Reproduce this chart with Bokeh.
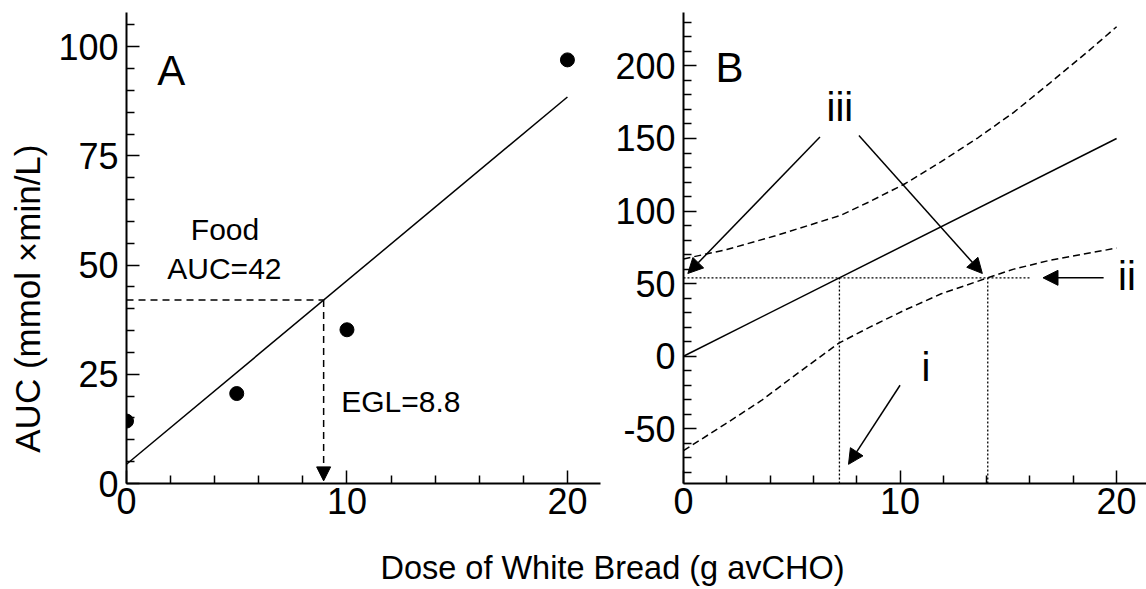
import numpy as np
from bokeh.plotting import figure
from bokeh.layouts import row, column
from bokeh.models import Range1d, FixedTicker, Label, Arrow, NormalHead
from bokeh.embed import file_html
from bokeh.resources import INLINE

FONT = "Liberation Sans"

# ---------------- data: panel A ----------------
dose_a = [0, 5, 10, 20]
auc_a = [14.3, 20.6, 35.2, 97.0]
fit_a_x = [0, 20]
fit_a_y = [4.4, 88.5]
food_auc = 42
egl_value = 8.8

# ---------------- data: panel B ----------------
fit_b_x = [0, 20]
fit_b_y = [0, 150]
upper_x = [0, 2, 4.25, 7.25, 8.6, 10.25, 11.9, 13.6, 15.25, 16.9, 18.6, 20]
upper_y = [67, 73.5, 83, 97, 106.5, 119, 134, 150.5, 168, 188, 209, 227]
lower_x = [0, 1.9, 3.6, 5.25, 7.17, 8.6, 10.25, 11.9, 14.05, 15.25, 16.9, 20]
lower_y = [-65, -47, -30.5, -12, 9, 20, 32, 43, 54, 60, 66, 74.5]
ref_auc_b = 54
dose_at_fit_b = 7.2
dose_at_lower_b = 14.05

x_major = [0, 10, 20]
x_minor = [v for v in range(0, 22, 2) if v % 10]
ya_major = [0, 25, 50, 75, 100]
ya_minor = [v for v in range(0, 110, 5) if v % 25]
yb_major = [-50, 0, 50, 100, 150, 200]
yb_minor = [v for v in range(-80, 240, 10) if v % 50]

x_title = "Dose of White Bread (g avCHO)"
y_title = "AUC (mmol \u00d7min/L)"

TOP = 12      # frame top (px)
FRAME_H = 471
BOT = 52
ROW_H = TOP + FRAME_H + BOT   # 535
TOTAL_H = 589
TOTAL_W = 1146
YT_W = 54


def style(p, xt, xm, yt, ym):
    p.xaxis.ticker = FixedTicker(ticks=xt, minor_ticks=xm)
    p.yaxis.ticker = FixedTicker(ticks=yt, minor_ticks=ym)
    p.grid.visible = False
    p.outline_line_color = None
    for ax in (p.xaxis[0], p.yaxis[0]):
        ax.axis_line_width = 2
        ax.axis_line_color = "black"
        ax.major_tick_in = 13
        ax.major_tick_out = 0
        ax.minor_tick_in = 8
        ax.minor_tick_out = 0
        ax.major_tick_line_width = 1.5
        ax.minor_tick_line_width = 1.5
        ax.major_tick_line_color = "black"
        ax.minor_tick_line_color = "black"
        ax.major_label_text_font = FONT
        ax.major_label_text_font_size = "36px"
        ax.major_label_text_color = "black"
    p.xaxis.major_label_standoff = 4
    p.yaxis.major_label_standoff = 8


def lab(p, x, y, text, size="30px", align="center", baseline="middle", angle=0):
    p.add_layout(Label(x=x, y=y, text=text, text_font=FONT, text_font_size=size,
                       text_align=align, text_baseline=baseline, angle=angle,
                       text_color="black"))


def blank(w, h):
    f = figure(width=w, height=h, x_range=Range1d(0, w), y_range=Range1d(0, h),
               toolbar_location=None, output_backend="svg",
               x_axis_location=None, y_axis_location=None, min_border=0)
    f.grid.visible = False
    f.outline_line_color = None
    return f


# ---------------- y title strip ----------------
pY = blank(YT_W, ROW_H)
lab(pY, 27, ROW_H - 325, y_title, size="35px", angle=np.pi / 2)

# ---------------- panel A ----------------
pA = figure(width=612 - YT_W, height=ROW_H, x_range=Range1d(0, 21.5), y_range=Range1d(0, 107.85),
            toolbar_location=None, output_backend="svg",
            min_border_left=126 - YT_W, min_border_right=12, min_border_top=TOP, min_border_bottom=BOT)
style(pA, x_major, x_minor, ya_major, ya_minor)

pA.line(fit_a_x, fit_a_y, line_color="black", line_width=1.5)
pA.scatter(dose_a, auc_a, size=14, color="black")

slope_a = (fit_a_y[1] - fit_a_y[0]) / (fit_a_x[1] - fit_a_x[0])
egl_x = (food_auc - fit_a_y[0]) / slope_a
pA.line([0, egl_x], [food_auc, food_auc], line_color="black", line_width=1.5, line_dash="7 5")
pA.add_layout(Arrow(end=NormalHead(size=14, fill_color="black", line_color="black"),
                    x_start=egl_x, y_start=food_auc, x_end=egl_x, y_end=0.6,
                    line_color="black", line_width=1.5, line_dash="7 5"))

lab(pA, 1.4, 94.5, "A", size="42px", align="left")
lab(pA, 4.47, 58.1, "Food")
lab(pA, 4.44, 49.2, "AUC=%d" % food_auc)
lab(pA, 9.74, 18.75, "EGL=%.1f" % egl_value, align="left")

# ---------------- panel B ----------------
pB = figure(width=TOTAL_W - 612, height=ROW_H, x_range=Range1d(0, 21.38), y_range=Range1d(-87.7, 236.8),
            toolbar_location=None, output_backend="svg",
            min_border_left=71, min_border_right=0, min_border_top=TOP, min_border_bottom=BOT)
style(pB, x_major, x_minor, yb_major, yb_minor)
pB.yaxis.major_label_overrides = {-50: "-50"}

pB.line(fit_b_x, fit_b_y, line_color="black", line_width=1.5)
pB.line(upper_x, upper_y, line_color="black", line_width=1.5, line_dash="7 4")
pB.line(lower_x, lower_y, line_color="black", line_width=1.5, line_dash="7 4")

pB.line([0, 16.07], [ref_auc_b, ref_auc_b], line_color="black", line_width=1.3, line_dash="2 2")
pB.line([dose_at_fit_b, dose_at_fit_b], [-87.7, ref_auc_b], line_color="black", line_width=1.3, line_dash="2 2")
pB.line([dose_at_lower_b, dose_at_lower_b], [-87.7, ref_auc_b], line_color="black", line_width=1.3, line_dash="2 2")


def arrow(p, x0, y0, x1, y1):
    p.add_layout(Arrow(end=NormalHead(size=15, fill_color="black", line_color="black"),
                       x_start=x0, y_start=y0, x_end=x1, y_end=y1,
                       line_color="black", line_width=1.5))


arrow(pB, 6.3, 151, 0.2, 57)
arrow(pB, 8.1, 152, 13.8, 57)
arrow(pB, 19.4, 54, 16.6, 54)
arrow(pB, 10.0, -20, 7.62, -74.5)

lab(pB, 1.48, 198.8, "B", size="42px", align="left")
lab(pB, 7.22, 171.8, "iii", size="40px")
lab(pB, 20.48, 55.5, "ii", size="40px")
lab(pB, 11.2, -7.7, "i", size="40px")

# ---------------- shared x title ----------------
T_H = TOTAL_H - ROW_H
pT = blank(TOTAL_W, T_H)
lab(pT, 612, T_H - 32, x_title, size="32.5px")

layout = column(row(pY, pA, pB, spacing=0), pT, spacing=0)
open("out.html", "w").write(file_html(layout, INLINE))
